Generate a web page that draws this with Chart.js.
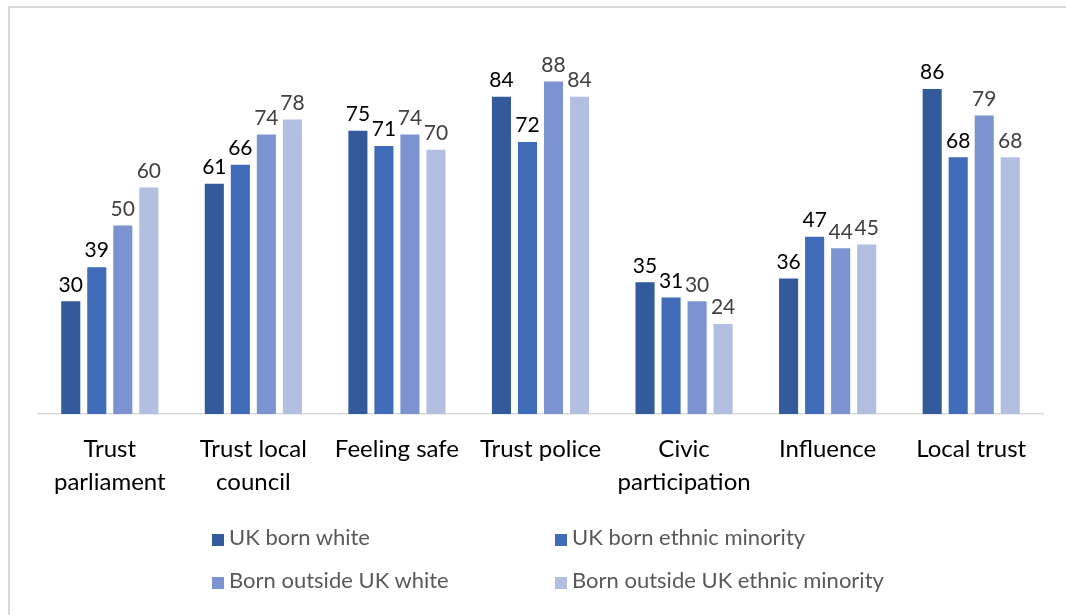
<!DOCTYPE html>
<html>
<head>
<meta charset="utf-8">
<script src="https://cdn.jsdelivr.net/npm/chart.js@4"></script>
<style>
  html, body { margin: 0; padding: 0; background: #fff; }
  #wrap { position: relative; width: 1066px; height: 615px; overflow: hidden; }
  #frame { position: absolute; left: 8px; top: 6px; width: 1080px; height: 640px;
    border-left: 2px solid #d9d9d9; border-top: 2px solid #d9d9d9; }
  #chart { position: absolute; left: 0; top: 0; }
  #legend { position: absolute; left: 0; top: 0; font-family: Lato, "Open Sans", sans-serif;
    font-size: 22px; color: #595959; }
  .item { position: absolute; white-space: nowrap; line-height: 26px; }
  .box { display: inline-block; width: 12px; height: 12px; margin-right: 5px; vertical-align: -1px; }
</style>
</head>
<body>
<div id="wrap">
  <div id="frame"></div>
  <canvas id="chart" width="1066" height="615"></canvas>
  <div id="legend"></div>
</div>
<script>
  const categories = [
    ["Trust", "parliament"],
    ["Trust local", "council"],
    "Feeling safe",
    "Trust police",
    ["Civic", "participation"],
    "Influence",
    "Local trust",
  ];

  const seriesNames = [
    "UK born white",
    "UK born ethnic minority",
    "Born outside UK white",
    "Born outside UK ethnic minority",
  ];

  const ukBornWhite = [30, 61, 75, 84, 35, 36, 86];
  const ukBornMinority = [39, 66, 71, 72, 31, 47, 68];
  const outsideWhite = [50, 74, 74, 88, 30, 44, 79];
  const outsideMinority = [60, 78, 70, 84, 24, 45, 68];

  const colors = ["#335a9a", "#3f6bb8", "#7b93d0", "#b3bfe0"];
  const labelColors = ["#000000", "#000000", "#404040", "#404040"];

  const seriesValues = [ukBornWhite, ukBornMinority, outsideWhite, outsideMinority];

  // value labels drawn above each bar
  const valueLabels = {
    id: "valueLabels",
    afterDatasetsDraw(chart) {
      const ctx = chart.ctx;
      ctx.save();
      ctx.font = "21px Lato, 'Open Sans', sans-serif";
      ctx.textAlign = "center";
      ctx.textBaseline = "bottom";
      chart.data.datasets.forEach((ds, i) => {
        ctx.fillStyle = labelColors[i];
        chart.getDatasetMeta(i).data.forEach((bar, j) => {
          ctx.fillText(String(ds.data[j]), bar.x, bar.y - 5);
        });
      });
      ctx.restore();
    },
  };

  const chart = new Chart(document.getElementById("chart"), {
    type: "bar",
    data: {
      labels: categories,
      datasets: seriesNames.map((name, i) => ({
        label: name,
        data: seriesValues[i],
        backgroundColor: colors[i],
        borderColor: "rgba(255,255,255,0.35)",
        borderWidth: 1,
        categoryPercentage: 0.725,
        barPercentage: 0.81,
      })),
    },
    options: {
      responsive: false,
      animation: false,
      layout: {
        padding: { left: 38, right: 23, top: 35, bottom: 105 },
      },
      plugins: {
        legend: { display: false },
        tooltip: { enabled: false },
      },
      scales: {
        x: {
          grid: { display: false },
          border: { display: true, color: "#d9d9d9", width: 1.5 },
          ticks: {
            color: "#000000",
            padding: 11,
            maxRotation: 0,
            autoSkip: false,
            font: { family: "Lato, 'Open Sans', sans-serif", size: 24, lineHeight: 1.375 },
          },
        },
        y: {
          display: false,
          min: 0,
          max: 100,
        },
      },
    },
    plugins: [valueLabels],
  });

  // legend in two columns, two rows
  const legend = document.getElementById("legend");
  const legendPos = [[212, 524], [555, 524], [212, 567], [555, 567]];
  seriesNames.forEach((name, i) => {
    const el = document.createElement("div");
    el.className = "item";
    el.style.left = legendPos[i][0] + "px";
    el.style.top = legendPos[i][1] + "px";
    el.innerHTML = '<span class="box" style="background:' + colors[i] + '"></span>' + name;
    legend.appendChild(el);
  });
</script>
</body>
</html>
